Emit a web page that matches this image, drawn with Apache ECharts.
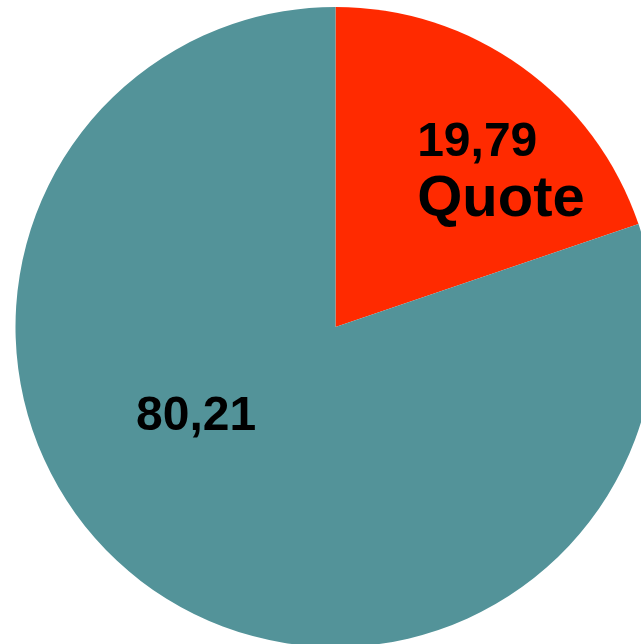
<!DOCTYPE html>
<html>
<head>
<meta charset="utf-8">
<script src="https://cdn.jsdelivr.net/npm/echarts@6/dist/echarts.min.js"></script>
<style>
  html, body { margin: 0; padding: 0; background: #fff; }
  #chart { width: 641px; height: 644px; }
</style>
</head>
<body>
<div id="chart"></div>
<script>
// Share split (percent)
const categories = ['Quote', ''];
const values = [19.79, 80.21];
const colors = ['#FF2A00', '#539399'];

// Label placement relative to the slice's default inside position
const labelOffsets = [[70.5, -20.5], [-44.5, -43]];

const fmt = v => v.toFixed(2).replace('.', ',');
const font = '"Liberation Sans", Arial, sans-serif';

const chart = echarts.init(document.getElementById('chart'), null, { renderer: 'canvas' });

chart.setOption({
  animation: false,
  backgroundColor: '#ffffff',
  series: [{
    type: 'pie',
    center: [335.5, 327],
    radius: [0, 320],
    startAngle: 90,
    clockwise: true,
    avoidLabelOverlap: false,
    silent: true,
    labelLine: { show: false },
    data: categories.map((name, i) => ({
      name: name,
      value: values[i],
      itemStyle: { color: colors[i], borderWidth: 0 },
      label: {
        show: true,
        position: 'inside',
        offset: labelOffsets[i],
        fontFamily: font,
        color: '#000',
        align: 'left',
        formatter: p => p.name ? '{v|' + fmt(p.value) + '}\n{n|' + p.name + '}' : '{v|' + fmt(p.value) + '}',
        rich: {
          v: { fontSize: 48, fontWeight: 'bold', color: '#000', fontFamily: font, lineHeight: 52, align: 'left' },
          n: { fontSize: 58, fontWeight: 'bold', color: '#000', fontFamily: font, lineHeight: 62, align: 'left' }
        }
      }
    }))
  }]
});
</script>
</body>
</html>
